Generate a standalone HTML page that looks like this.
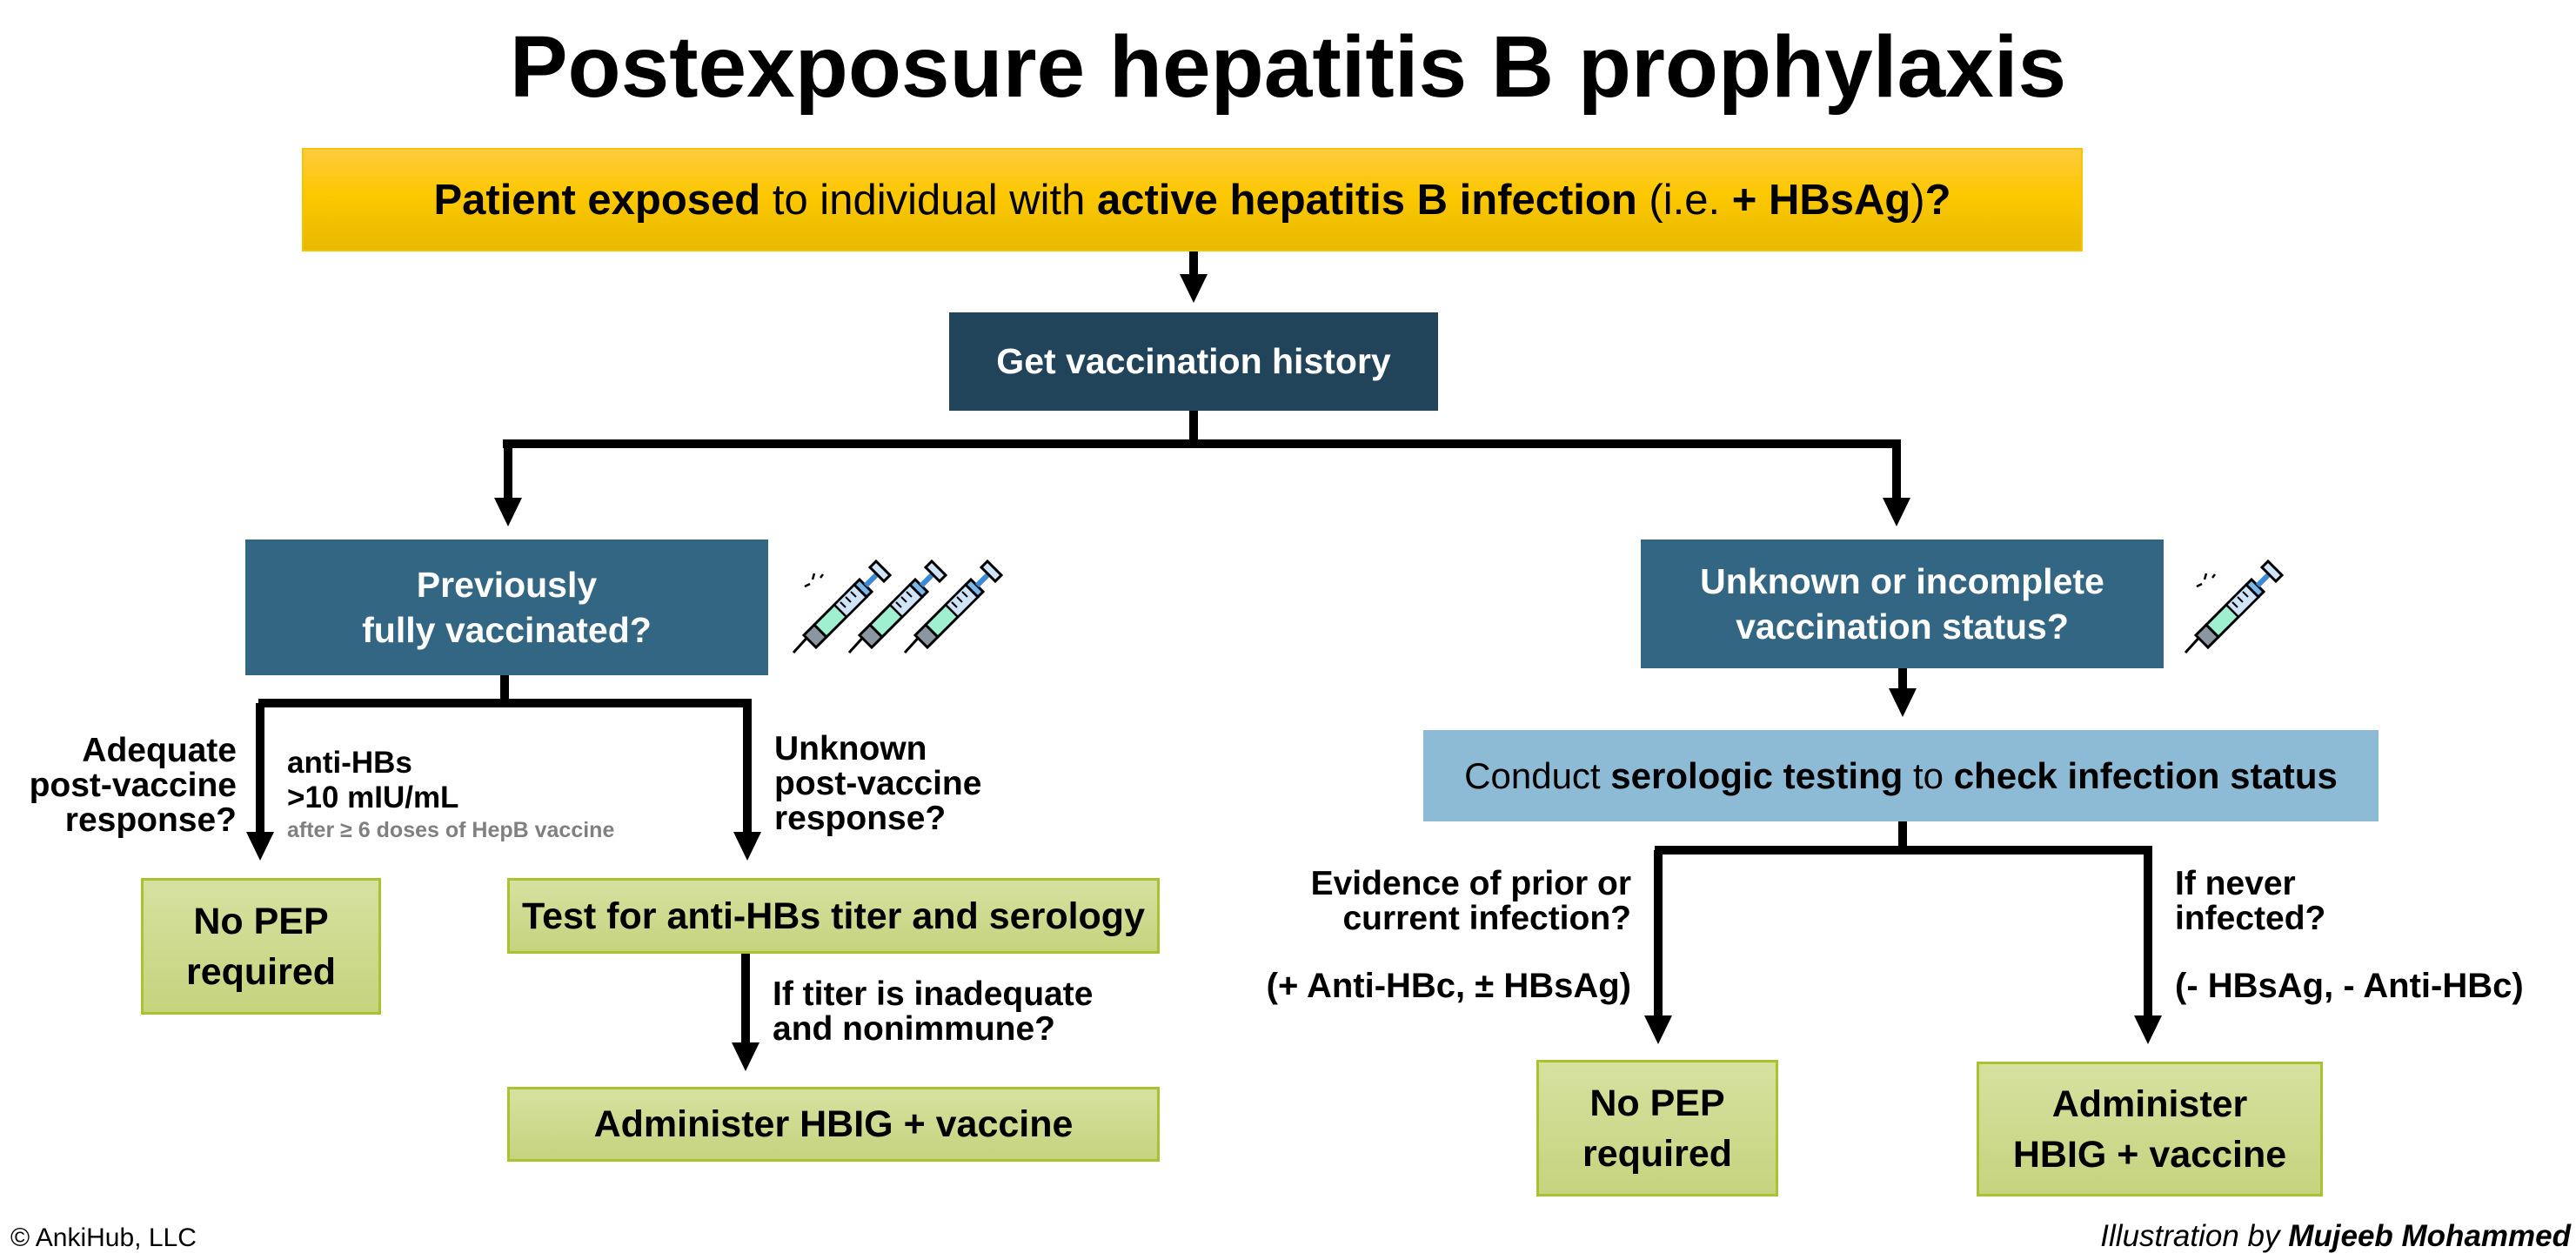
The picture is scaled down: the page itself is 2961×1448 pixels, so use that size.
<!DOCTYPE html>
<html><head><meta charset="utf-8"><style>
body{margin:0;width:2961px;height:1448px;background:#fff;position:relative;overflow:hidden;font-family:"Liberation Sans",Arial,sans-serif;}
.b{position:absolute;display:flex;align-items:center;justify-content:center;text-align:center;box-sizing:border-box;font-weight:bold;}
.t{position:absolute;font-weight:bold;font-size:39px;line-height:40px;color:#000;white-space:nowrap;}
.g{background:linear-gradient(#d6e1a0,#c6d37e);border:3px solid #a9c230;font-size:43px;line-height:58px;}
.n{font-weight:normal;}
</style></head><body>
<div class="t" style="left:0;width:2961px;top:22px;text-align:center;font-size:100px;line-height:110px;">Postexposure hepatitis B prophylaxis</div>

<div class="b" style="left:347px;top:170px;width:2047px;height:119px;background:linear-gradient(#ffca3e,#fcc800 45%,#e7b900);border:2px solid #f5c400;font-size:49px;"><span><span>Patient exposed</span><span class="n"> to individual with </span>active hepatitis B infection<span class="n"> (i.e. </span>+ HBsAg<span class="n">)</span>?</span></div>

<div class="b" style="left:1091px;top:359px;width:562px;height:113px;background:#22445a;color:#fff;font-size:41px;">Get vaccination history</div>

<div class="b" style="left:282px;top:620px;width:601px;height:156px;background:#336683;color:#fff;font-size:41px;line-height:52px;">Previously<br>fully vaccinated?</div>

<div class="b" style="left:1886px;top:620px;width:601px;height:148px;background:#336683;color:#fff;font-size:41px;line-height:52px;">Unknown or incomplete<br>vaccination status?</div>

<div class="b" style="left:1636px;top:839px;width:1098px;height:105px;background:#8dbad4;color:#000;font-size:42px;"><span><span class="n">Conduct </span>serologic testing<span class="n"> to </span>check infection status</span></div>

<div class="b g" style="left:162px;top:1009px;width:276px;height:157px;">No PEP<br>required</div>
<div class="b g" style="left:583px;top:1009px;width:750px;height:87px;">Test for anti-HBs titer and serology</div>
<div class="b g" style="left:583px;top:1249px;width:750px;height:86px;">Administer HBIG + vaccine</div>
<div class="b g" style="left:1766px;top:1218px;width:278px;height:157px;">No PEP<br>required</div>
<div class="b g" style="left:2272px;top:1220px;width:398px;height:155px;">Administer<br>HBIG + vaccine</div>

<svg style="position:absolute;left:0;top:0" width="2961" height="1448">
<g fill="none" stroke="#000" stroke-width="10">
<path d="M1372 289V318"/>
<path d="M1372 472V510M578 510H2185M584 510V575M2180 510V575"/>
<path d="M580 776V808M297 808H864M299 808V958M859 808V958"/>
<path d="M857 1096V1200"/>
<path d="M2187 768V794"/>
<path d="M2187 944V977M1902 977H2474M1906 977V1170M2469 977V1170"/>
</g>
<g fill="#000">
<path d="M1356 315h32l-16 33z"/>
<path d="M568 572h32l-16 33z"/><path d="M2164 572h32l-16 33z"/>
<path d="M283 956h32l-16 33z"/><path d="M843 956h32l-16 33z"/>
<path d="M841 1198h32l-16 33z"/>
<path d="M2171 791h32l-16 33z"/>
<path d="M1890 1167h32l-16 33z"/><path d="M2453 1167h32l-16 33z"/>
</g>
<defs>
<g id="sy">
<path d="M-4 104 L16 82" stroke="#000" stroke-width="3"/>
<path d="M8 84 L22 98 L34 86 L20 72Z" fill="#8a96a0" stroke="#000" stroke-width="3"/>
<path d="M20 72 L34 86 L80 40 L66 26Z" fill="#9ff0d0" stroke="#000" stroke-width="3"/>
<path d="M43 49 L66 26 L80 40 L57 63Z" fill="#cfe4f8" stroke="#000" stroke-width="2.5"/>
<path d="M50 46l6 6M56 40l6 6M62 34l6 6" stroke="#000" stroke-width="2"/>
<path d="M66 26 L80 40 L86 34 L72 20Z" fill="#7ab8e8" stroke="#000" stroke-width="3"/>
<path d="M79 27 L91 15" stroke="#3a8ad8" stroke-width="6"/>
<path d="M84 6 L100 22 L107 15 L91 -1Z" fill="#cfe4f8" stroke="#000" stroke-width="3"/>
</g>
</defs>
<use href="#sy" x="916" y="646"/>
<use href="#sy" x="980" y="646"/>
<use href="#sy" x="1044" y="646"/>
<path d="M925 674l6-3M934 666l2-7M943 664l3-4" stroke="#000" stroke-width="2.5"/>
<use href="#sy" x="2516" y="646"/>
<path d="M2525 674l6-3M2534 666l2-7M2543 664l3-4" stroke="#000" stroke-width="2.5"/>
</svg>

<div class="t" style="right:2689px;top:843px;text-align:right;">Adequate<br>post-vaccine<br>response?</div>
<div class="t" style="left:330px;top:857px;font-size:35px;line-height:40px;">anti-HBs<br>&gt;10 mIU/mL</div>
<div class="t" style="left:330px;top:940px;font-size:25px;line-height:28px;color:#808080;">after ≥ 6 doses of HepB vaccine</div>
<div class="t" style="left:890px;top:841px;">Unknown<br>post-vaccine<br>response?</div>
<div class="t" style="left:888px;top:1123px;">If titer is inadequate<br>and nonimmune?</div>

<div class="t" style="right:1086px;top:996px;text-align:right;">Evidence of prior or<br>current infection?</div>
<div class="t" style="right:1086px;top:1113px;text-align:right;font-size:40px;">(+ Anti-HBc, ± HBsAg)</div>
<div class="t" style="left:2500px;top:996px;">If never<br>infected?</div>
<div class="t" style="left:2500px;top:1113px;font-size:40px;">(- HBsAg, - Anti-HBc)</div>

<div class="t n" style="left:12px;top:1403px;font-weight:normal;font-size:30px;">© AnkiHub, LLC</div>
<div class="t" style="right:6px;top:1401px;font-size:35px;font-style:italic;"><span style="font-weight:normal">Illustration by </span>Mujeeb Mohammed</div>
</body></html>
